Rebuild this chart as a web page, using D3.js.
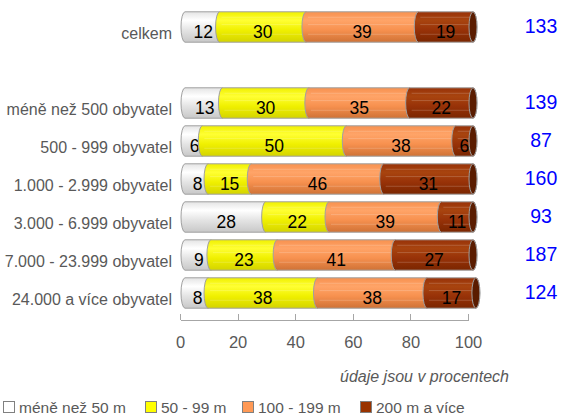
<!DOCTYPE html>
<meta charset="utf-8">
<style>
body { margin: 0; background: #fff; font-family: Arial, "Liberation Sans", sans-serif; }
.axis path, .axis line { fill: none; stroke: #a6a6a6; stroke-width: 1; shape-rendering: crispEdges; }
.axis text { fill: #595959; font-size: 16.5px; font-family: Arial, "Liberation Sans", sans-serif; }
.cat { fill: #595959; font-size: 16px; }
.seg { fill: #000; font-size: 17.5px; }
.tot { fill: #0000ff; font-size: 19.5px; }
.leg { fill: #595959; font-size: 15.5px; }
</style>
<body>
<script src="https://d3js.org/d3.v7.min.js"></script>
<script>

// data
var categories = ["celkem", "", "méně než 500 obyvatel", "500 - 999 obyvatel", "1.000 - 2.999 obyvatel",
                  "3.000 - 6.999 obyvatel", "7.000 - 23.999 obyvatel", "24.000 a více obyvatel"];
var under50   = [12, null, 13, 6, 8, 28, 9, 8];
var from50    = [30, null, 30, 50, 15, 22, 23, 38];
var from100   = [39, null, 35, 38, 46, 39, 41, 38];
var over200   = [19, null, 22, 6, 31, 11, 27, 17];
var totals    = [133, null, 139, 87, 160, 93, 187, 124];
var seriesNames = ["méně než 50 m", "50 - 99 m", "100 - 199 m", "200 m a více"];
var xTicks = [0, 20, 40, 60, 80, 100];

var colors = [
  {id: "g0", top: "#e4e4e4", light: "#ffffff", bottom: "#c8c8c8", swatch: "#ffffff"},
  {id: "g1", top: "#f0f000", light: "#ffff33", bottom: "#d4d400", swatch: "#ffff00"},
  {id: "g2", top: "#f7914f", light: "#ffa468", bottom: "#cf7236", swatch: "#ff9955"},
  {id: "g3", top: "#983208", light: "#a8440f", bottom: "#7a2600", swatch: "#993300"}
];

var W = 564, H = 416;
var svg = d3.select("body").append("svg").attr("width", W).attr("height", H);

var defs = svg.append("defs");
colors.forEach(function(c) {
  var g = defs.append("linearGradient").attr("id", c.id)
      .attr("x1", 0).attr("y1", 0).attr("x2", 0).attr("y2", 1);
  g.append("stop").attr("offset", "0%").attr("stop-color", c.top);
  g.append("stop").attr("offset", "28%").attr("stop-color", c.light);
  g.append("stop").attr("offset", "60%").attr("stop-color", c.top);
  g.append("stop").attr("offset", "100%").attr("stop-color", c.bottom);
});

var x = d3.scaleLinear().domain([0, 100]).range([180, 468]);
var y = d3.scaleBand().domain(categories.map(function(d, i) { return i; }))
    .range([8, 312]).paddingInner(0.2).paddingOuter(0.1);

var dx = 5, rx = 4;
var series = [under50, from50, from100, over200];

categories.forEach(function(cat, i) {
  if (under50[i] == null) return;
  var y0 = y(i), h = y.bandwidth(), ry = h / 2, cy = y0 + ry;
  var g = svg.append("g");
  var acc = 0;
  series.forEach(function(s, k) {
    var a = x(acc) + dx, b = x(acc + s[i]) + dx;
    var p = "M" + a + "," + y0 +
            " A" + rx + "," + ry + " 0 0 0 " + a + "," + (y0 + h) +
            " L" + b + "," + (y0 + h) +
            " A" + rx + "," + ry + " 0 0 0 " + b + "," + y0 + " Z";
    g.append("path").attr("d", p)
      .attr("fill", "url(#" + colors[k].id + ")")
      .attr("stroke", "#a0a0a0").attr("stroke-width", 1);
    // faint stripes
    [0.18, 0.42, 0.74].forEach(function(f) {
      g.append("line").attr("x1", a + 2).attr("x2", b - 1)
        .attr("y1", y0 + h * f).attr("y2", y0 + h * f)
        .attr("stroke", "#fff").attr("stroke-opacity", k == 0 ? 0 : 0.18);
    });
    g.append("text").attr("class", "seg")
      .attr("x", (a + b) / 2 + (k == 0 ? 1 : 0)).attr("y", cy + 11)
      .attr("text-anchor", "middle").text(s[i]);
    acc += s[i];
  });
  var ex = x(acc) + dx;
  g.append("ellipse").attr("cx", ex).attr("cy", cy).attr("rx", rx).attr("ry", ry)
    .attr("fill", "#5a1c00").attr("stroke", "#a0a0a0");

  svg.append("text").attr("class", "cat")
    .attr("x", 172).attr("y", cy + 12).attr("text-anchor", "end").text(cat);
  svg.append("text").attr("class", "tot")
    .attr("x", 541).attr("y", cy + 6).attr("text-anchor", "middle").text(totals[i]);
});

// axis
var xAxis = d3.axisBottom(x).tickValues(xTicks).tickSizeInner(-6).tickSizeOuter(0).tickPadding(16);
svg.append("g").attr("class", "axis").attr("transform", "translate(0,320)").call(xAxis);

svg.append("text")
  .attr("x", 509).attr("y", 382).attr("text-anchor", "end")
  .attr("font-style", "italic").attr("font-size", 16).attr("fill", "#595959")
  .text("údaje jsou v procentech");

// legend
var legX = [3, 145, 242, 360];
seriesNames.forEach(function(n, k) {
  svg.append("rect").attr("x", legX[k] + 0.5).attr("y", 401.5).attr("width", 11).attr("height", 11)
    .attr("fill", colors[k].swatch).attr("stroke", "#808080");
  svg.append("text").attr("class", "leg").attr("x", legX[k] + 16).attr("y", 413).text(n);
});

</script>
</body>
